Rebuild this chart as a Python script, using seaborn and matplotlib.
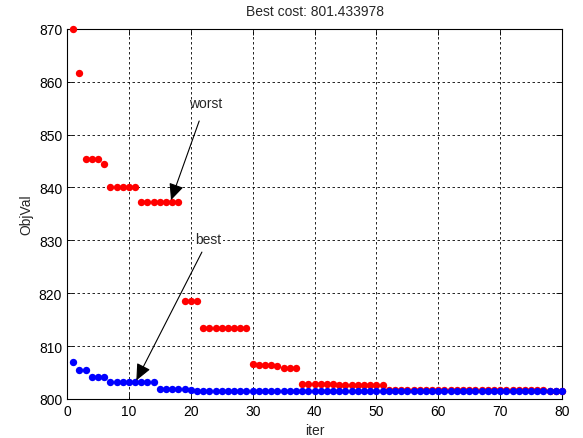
import numpy as np
import pandas as pd
import seaborn as sns
import matplotlib
matplotlib.use("Agg")
import matplotlib.pyplot as plt

# iteration numbers
iters = list(range(1, 81))

# worst objective value per iteration
worst = ([870.0, 861.6]
         + [845.4, 845.4, 845.4, 844.4]
         + [840.1] * 5
         + [837.2] * 7
         + [818.5] * 3
         + [813.4] * 8
         + [806.7, 806.5, 806.5, 806.4, 806.2, 805.9, 805.8, 805.8]
         + [802.9] * 5 + [802.8] + [802.6] * 8
         + [801.6] * 26
         + [801.434] * 3)

# best objective value per iteration
best = ([807.0, 805.4, 805.4, 804.2, 804.2, 804.2]
        + [803.2] * 8
        + [801.95] * 5
        + [801.7]
        + [801.434] * 60)

best_cost = "801.433978"

df = pd.DataFrame({"iter": iters, "worst": worst, "best": best})

sns.set_style("white")
plt.rcParams["font.family"] = ["Liberation Sans", "DejaVu Sans"]

fig = plt.figure(figsize=(5.83, 4.39), dpi=100)
ax = fig.add_axes([0.115, 0.089, 0.849, 0.843])

sns.scatterplot(data=df, x="iter", y="worst", color="red", s=28,
                edgecolor="red", linewidth=0, ax=ax, zorder=3, clip_on=False)
sns.scatterplot(data=df, x="iter", y="best", color="blue", s=28,
                edgecolor="blue", linewidth=0, ax=ax, zorder=4, clip_on=False)

ax.set_xlim(0, 80)
ax.set_ylim(800, 870)
ax.set_xticks(range(0, 81, 10))
ax.set_yticks(range(800, 871, 10))
ax.grid(True, color="black", linestyle=(0, (3, 3)), linewidth=0.6)
ax.set_axisbelow(True)
for sp in ax.spines.values():
    sp.set_color("black")
    sp.set_linewidth(0.8)
ax.tick_params(direction="in", length=4, width=0.6, labelsize=10,
               top=True, right=True, bottom=True, left=True, colors="black")

ax.set_title("Best cost: " + best_cost, fontsize=10, pad=10)
ax.set_xlabel("iter", fontsize=10, labelpad=4)
ax.set_ylabel("ObjVal", fontsize=10, labelpad=4)

ax.annotate("worst", xy=(16.8, 837.6), xytext=(22.4, 856.0),
            ha="center", va="center", fontsize=10,
            arrowprops=dict(arrowstyle="-|>,head_length=1.0,head_width=0.45",
                            color="black", lw=0.8,
                            shrinkA=6, shrinkB=0),
            zorder=6)
ax.annotate("best", xy=(11.2, 803.5), xytext=(22.9, 830.3),
            ha="center", va="center", fontsize=10,
            bbox=dict(boxstyle="square,pad=0.1", fc="white", ec="none"),
            arrowprops=dict(arrowstyle="-|>,head_length=1.0,head_width=0.45",
                            color="black", lw=0.8,
                            shrinkA=4, shrinkB=0),
            zorder=6)

fig.savefig("out.png", dpi=100)
